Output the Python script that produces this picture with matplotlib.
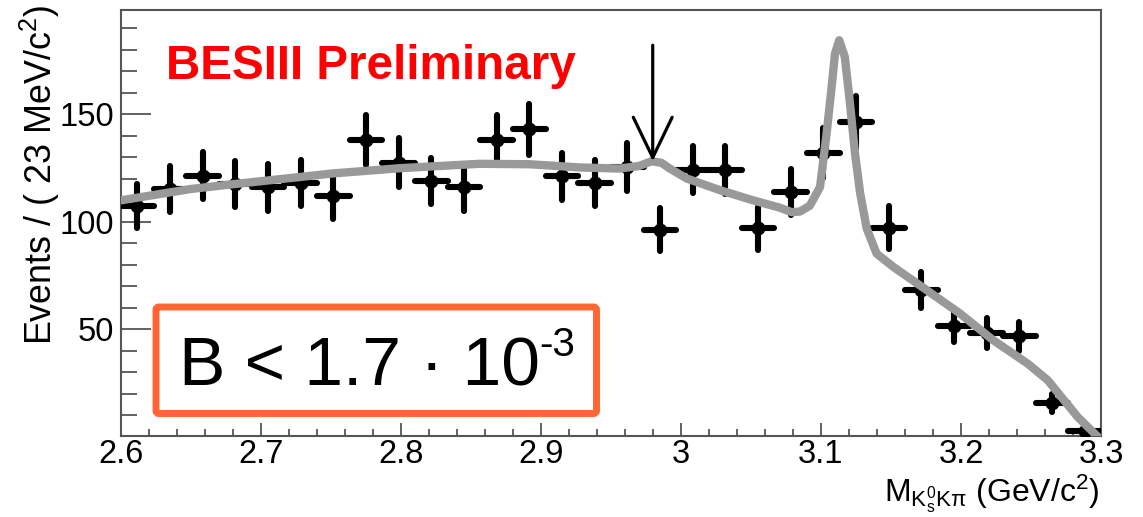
import matplotlib
matplotlib.use('Agg')
import matplotlib.pyplot as plt
from matplotlib.patches import FancyBboxPatch
from matplotlib.ticker import MultipleLocator, FixedLocator, FixedFormatter
import numpy as np

plt.rcParams['font.family'] = ['Liberation Sans', 'DejaVu Sans']
plt.rcParams['mathtext.fontset'] = 'custom'
plt.rcParams['mathtext.rm'] = 'Liberation Sans'
plt.rcParams['mathtext.it'] = 'Liberation Sans:italic'
plt.rcParams['mathtext.bf'] = 'Liberation Sans:bold'

# ---------------- data ----------------
mass_lo, mass_hi, n_bins = 2.6, 3.3, 30
counts = [107.4, 115.5, 121.4, 117.5, 116.0, 118.1, 111.9, 138.0, 127.5, 119.0,
          116.0, 138.0, 143.0, 121.2, 118.1, 125.5, 96.4, 124.3, 124.0, 96.9,
          113.9, 132.1, 146.5, 97.3, 68.2, 51.4, 48.3, 46.7, 15.7, 2.7]
errors = [10.4, 10.7, 11.0, 10.8, 10.8, 10.9, 10.6, 11.7, 11.3, 10.9,
          10.8, 11.7, 12.0, 11.0, 10.9, 11.2, 9.8, 11.1, 11.1, 9.8,
          10.7, 11.5, 12.1, 9.9, 8.3, 7.2, 6.9, 6.8, 4.0, 1.6]
fit_x = [2.600, 2.650, 2.680, 2.751, 2.800, 2.856, 2.892, 2.928, 2.956, 2.970,
         2.979, 2.986, 2.992, 3.004, 3.028, 3.051, 3.071, 3.079, 3.085, 3.092,
         3.0993, 3.104, 3.1076, 3.110, 3.113, 3.117, 3.1207, 3.1243, 3.128, 3.1326,
         3.1397, 3.1517, 3.1755, 3.1993, 3.223, 3.2476, 3.2619, 3.2833, 3.2976]
fit_y = [110.0, 115.3, 117.5, 122.5, 125.0, 127.0, 126.8, 125.3, 124.8, 126.0,
         128.2, 127.5, 124.8, 120.2, 114.7, 110.1, 106.5, 104.5, 104.8, 107.5,
         116.2, 141.1, 162.8, 178.3, 184.5, 176.8, 155.1, 131.8, 113.2, 97.0,
         85.2, 79.0, 68.2, 57.3, 44.9, 34.0, 26.3, 9.2, 0.0]
x_ticks = [2.6, 2.7, 2.8, 2.9, 3.0, 3.1, 3.2, 3.3]
x_tick_labels = ['2.6', '2.7', '2.8', '2.9', '3', '3.1', '3.2', '3.3']
y_ticks = [50, 100, 150]
y_tick_labels = ['50', '100', '150']
cut_mass = 2.9798
arrow_tip, arrow_top = 128.2, 182.2
# --------------------------------------

W, H = 1143, 517
fig = plt.figure(figsize=(W / 100, H / 100), dpi=100)
ax = fig.add_axes([121 / W, 81 / H, 980 / W, 426 / H])

edges = np.linspace(mass_lo, mass_hi, n_bins + 1)
centers = 0.5 * (edges[:-1] + edges[1:])
half_w = 0.5 * (edges[1] - edges[0])

eb = ax.errorbar(centers, counts, xerr=half_w, yerr=errors, fmt='o', ms=9,
                 color='black', elinewidth=4.4, capsize=0, zorder=3)
for lc in eb[2]:
    lc.set_capstyle('round')

ax.plot(fit_x, fit_y, color='#999999', lw=6.0, solid_joinstyle='round',
        solid_capstyle='round', zorder=4)

ax.annotate('', xy=(cut_mass, arrow_tip), xytext=(cut_mass, arrow_top),
            arrowprops=dict(arrowstyle='->,head_length=2.9,head_width=1.4',
                            lw=2.3, color='black', shrinkA=0, shrinkB=0),
            zorder=5)

ax.set_xlim(mass_lo, mass_hi)
ax.set_ylim(0.3, 198.6)
ax.xaxis.set_major_locator(FixedLocator(x_ticks))
ax.xaxis.set_major_formatter(FixedFormatter(x_tick_labels))
ax.xaxis.set_minor_locator(MultipleLocator(0.02))
ax.yaxis.set_major_locator(FixedLocator(y_ticks))
ax.yaxis.set_major_formatter(FixedFormatter(y_tick_labels))
ax.yaxis.set_minor_locator(MultipleLocator(10))

tick_col = '#555555'
ax.tick_params(which='both', direction='in', top=False, right=False,
               color=tick_col, width=1.3, labelsize=23.5, labelcolor='black')
ax.tick_params(axis='y', which='major', length=21.6, pad=5)
ax.tick_params(axis='y', which='minor', length=11.5)
ax.tick_params(axis='x', which='major', length=9.4, pad=2.5)
ax.tick_params(axis='x', which='minor', length=5)
for sp in ax.spines.values():
    sp.set_color(tick_col)
    sp.set_linewidth(1.5)

fig.text(166 / W, 1 - 79 / H, 'BESIII Preliminary', color='#ff0000',
         fontweight='bold', fontsize=34.3, ha='left', va='baseline')

box = FancyBboxPatch((1.56, 1.035), 4.405, 1.065,
                     boxstyle='round,pad=0,rounding_size=0.03',
                     transform=fig.dpi_scale_trans, fc='white',
                     ec='#ff6633', lw=5, zorder=10)
fig.add_artist(box)
fig.text(179 / W, 1 - 385 / H, 'B < 1.7 \u00b7 10', fontsize=50,
         ha='left', va='baseline', zorder=11)
fig.text(539 / W, 1 - 356 / H, '-3', fontsize=29, ha='left',
         va='baseline', zorder=11)

fig.text(40 / W, 1 - 5 / H, r'Events / ( 23 MeV/c$^{2}$)', rotation=90,
         fontsize=25.8, ha='center', va='top')
fig.text(1099 / W, 1 - 501.7 / H, r'M$_{\mathrm{K^{0}_{s}K\pi}}$ (GeV/c$^{2}$)',
         fontsize=23, ha='right', va='baseline')

fig.savefig('out.png', dpi=100)
